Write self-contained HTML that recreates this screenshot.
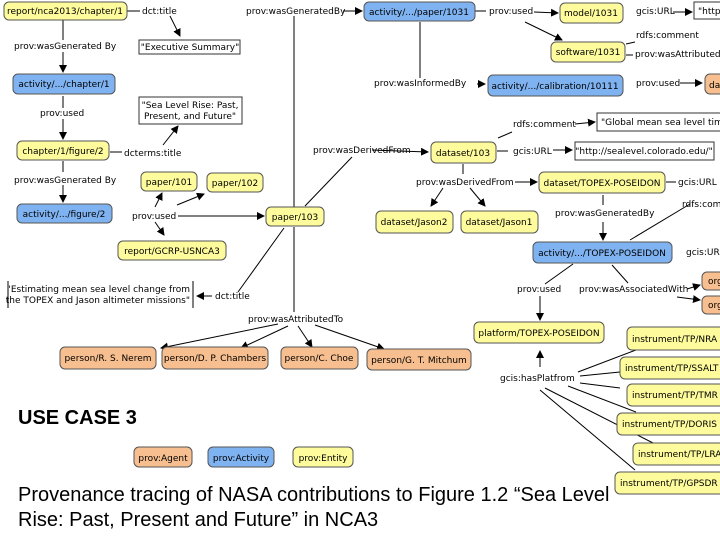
<!DOCTYPE html>
<html><head><meta charset="utf-8"><style>
html,body{margin:0;padding:0;background:#fff;width:720px;height:540px;overflow:hidden}
svg{display:block}
text{font-family:"DejaVu Sans","Liberation Sans",sans-serif;font-size:9px;fill:#000}
.y{fill:#fdfb9c;stroke:#555;stroke-width:1}
.b{fill:#7fb2f0;stroke:#555;stroke-width:1}
.o{fill:#f7bf8f;stroke:#555;stroke-width:1}
.w{fill:#fff;stroke:#333;stroke-width:1}
line,polyline{stroke:#000;stroke-width:1;fill:none}
.cap{font-family:"Liberation Sans",sans-serif;font-size:20px}
</style></head><body>
<svg width="720" height="540" viewBox="0 0 720 540">
<defs><marker id="a" markerWidth="8" markerHeight="8" refX="7" refY="4" orient="auto" markerUnits="userSpaceOnUse"><path d="M0,0 L8,4 L0,8z" fill="#000"/></marker></defs>

<g>
<line x1="127" y1="11" x2="140" y2="11"/>
<line x1="170" y1="16" x2="180" y2="36" marker-end="url(#a)"/>
<line x1="63" y1="20" x2="63" y2="40"/><line x1="63" y1="52" x2="63" y2="72" marker-end="url(#a)"/>
<line x1="63" y1="96" x2="63" y2="108"/><line x1="63" y1="119" x2="63" y2="139" marker-end="url(#a)"/>
<line x1="110" y1="152" x2="122" y2="152"/><line x1="163" y1="145" x2="178" y2="126" marker-end="url(#a)"/>
<line x1="63" y1="161" x2="63" y2="172"/><line x1="63" y1="185" x2="63" y2="202" marker-end="url(#a)"/>
<line x1="155" y1="207" x2="162" y2="193" marker-end="url(#a)"/>
<line x1="177" y1="205" x2="204" y2="194" marker-end="url(#a)"/>
<line x1="178" y1="216" x2="264" y2="216" marker-end="url(#a)"/>
<line x1="155" y1="222" x2="164" y2="235" marker-end="url(#a)"/>
<line x1="294" y1="16" x2="294" y2="207"/><line x1="294" y1="227" x2="294" y2="312"/>
<line x1="343" y1="11" x2="362" y2="11" marker-end="url(#a)"/>
<line x1="305" y1="206" x2="352" y2="157"/>
<line x1="372" y1="150" x2="428" y2="152" marker-end="url(#a)"/>
<line x1="284" y1="228" x2="238" y2="292"/>
<line x1="212" y1="296" x2="197" y2="296" marker-end="url(#a)"/>
<line x1="278" y1="324" x2="161" y2="348" marker-end="url(#a)"/>
<line x1="288" y1="326" x2="241" y2="348" marker-end="url(#a)"/>
<line x1="298" y1="326" x2="312" y2="347" marker-end="url(#a)"/>
<line x1="315" y1="325" x2="384" y2="349" marker-end="url(#a)"/>
<line x1="420" y1="22" x2="420" y2="78"/><line x1="477" y1="84" x2="485" y2="84" marker-end="url(#a)"/>
<line x1="475" y1="11" x2="486" y2="11"/><line x1="534" y1="12" x2="558" y2="13" marker-end="url(#a)"/>
<line x1="525" y1="22" x2="562" y2="40" marker-end="url(#a)"/>
<line x1="626" y1="44" x2="635" y2="42"/><line x1="626" y1="55" x2="633" y2="55"/>
<line x1="673" y1="12" x2="692" y2="12" marker-end="url(#a)"/>
<line x1="680" y1="83" x2="702" y2="83" marker-end="url(#a)"/>
<line x1="497" y1="151" x2="508" y2="151"/><line x1="553" y1="150" x2="572" y2="150" marker-end="url(#a)"/>
<line x1="498" y1="138" x2="512" y2="132"/><line x1="575" y1="124" x2="595" y2="122" marker-end="url(#a)"/>
<line x1="463" y1="164" x2="463" y2="174"/><line x1="515" y1="182" x2="537" y2="182" marker-end="url(#a)"/>
<line x1="443" y1="188" x2="431" y2="206" marker-end="url(#a)"/>
<line x1="470" y1="188" x2="485" y2="206" marker-end="url(#a)"/>
<line x1="666" y1="182" x2="676" y2="182"/>
<line x1="603" y1="195" x2="603" y2="205"/><line x1="603" y1="222" x2="603" y2="240" marker-end="url(#a)"/>
<line x1="690" y1="204" x2="630" y2="240"/>
<line x1="573" y1="264" x2="545" y2="284"/><line x1="540" y1="296" x2="540" y2="320" marker-end="url(#a)"/>
<line x1="612" y1="265" x2="628" y2="283"/>
<line x1="687" y1="289" x2="700" y2="285" marker-end="url(#a)"/>
<line x1="677" y1="297" x2="700" y2="300" marker-end="url(#a)"/>
<line x1="540" y1="367" x2="540" y2="351" marker-end="url(#a)"/>
<line x1="578" y1="372" x2="636" y2="350"/>
<line x1="580" y1="376" x2="620" y2="372"/>
<line x1="580" y1="383" x2="620" y2="388"/>
<line x1="568" y1="386" x2="636" y2="412"/>
<line x1="545" y1="388" x2="655" y2="444"/>
<line x1="540" y1="390" x2="635" y2="470"/>
</g>

<g>
<rect class="y" x="4" y="2" width="123" height="18" rx="5"/><text x="65" y="14" text-anchor="middle">report/nca2013/chapter/1</text>
<rect class="b" x="13" y="74" width="102" height="20" rx="5"/><text x="64" y="87" text-anchor="middle">activity/.../chapter/1</text>
<rect class="y" x="17" y="141" width="92" height="19" rx="5"/><text x="63" y="154" text-anchor="middle">chapter/1/figure/2</text>
<rect class="b" x="17" y="204" width="95" height="19" rx="5"/><text x="64" y="217" text-anchor="middle">activity/.../figure/2</text>
<rect class="w" x="139" y="40" width="101" height="14"/><text x="190" y="50" text-anchor="middle">"Executive Summary"</text>
<rect class="w" x="139" y="97" width="103" height="27"/><text x="190" y="108" text-anchor="middle">"Sea Level Rise: Past,</text><text x="190" y="119" text-anchor="middle">Present, and Future"</text>
<rect class="y" x="141" y="172" width="56" height="19" rx="5"/><text x="169" y="185" text-anchor="middle">paper/101</text>
<rect class="y" x="207" y="173" width="56" height="19" rx="5"/><text x="235" y="186" text-anchor="middle">paper/102</text>
<rect class="y" x="266" y="207" width="58" height="19" rx="5"/><text x="295" y="220" text-anchor="middle">paper/103</text>
<rect class="y" x="118" y="241" width="108" height="19" rx="5"/><text x="172" y="254" text-anchor="middle">report/GCRP-USNCA3</text>
<line x1="8" y1="281" x2="8" y2="308"/><line x1="193" y1="281" x2="193" y2="308"/>
<text x="190" y="292" text-anchor="end">"Estimating mean sea level change from</text><text x="190" y="303" text-anchor="end">the TOPEX and Jason altimeter missions"</text>
<rect class="o" x="60" y="347" width="96" height="22" rx="5"/><text x="108" y="361" text-anchor="middle">person/R. S. Nerem</text>
<rect class="o" x="162" y="347" width="106" height="22" rx="5"/><text x="215" y="361" text-anchor="middle">person/D. P. Chambers</text>
<rect class="o" x="281" y="347" width="77" height="22" rx="5"/><text x="319" y="361" text-anchor="middle">person/C. Choe</text>
<rect class="o" x="367" y="349" width="104" height="21" rx="5"/><text x="419" y="363" text-anchor="middle">person/G. T. Mitchum</text>
<rect class="b" x="364" y="2" width="111" height="19" rx="5"/><text x="419" y="15" text-anchor="middle">activity/.../paper/1031</text>
<rect class="y" x="560" y="3" width="63" height="20" rx="5"/><text x="591" y="16" text-anchor="middle">model/1031</text>
<rect class="y" x="551" y="42" width="74" height="20" rx="5"/><text x="588" y="55" text-anchor="middle">software/1031</text>
<rect class="b" x="488" y="75" width="135" height="21" rx="5"/><text x="555" y="89" text-anchor="middle">activity/.../calibration/10111</text>
<rect class="w" x="694" y="2" width="30" height="17"/><text x="698" y="14">"http</text>
<rect class="o" x="705" y="74" width="20" height="20" rx="5"/><text x="709" y="88">da</text>
<rect class="w" x="597" y="113" width="130" height="18"/><text x="601" y="125">"Global mean sea level time</text>
<rect class="w" x="575" y="142" width="139" height="18"/><text x="644" y="154" text-anchor="middle">"http://sealevel.colorado.edu/"</text>
<rect class="y" x="431" y="142" width="65" height="21" rx="5"/><text x="463" y="156" text-anchor="middle">dataset/103</text>
<rect class="y" x="539" y="172" width="126" height="21" rx="5"/><text x="602" y="186" text-anchor="middle">dataset/TOPEX-POSEIDON</text>
<rect class="y" x="376" y="211" width="77" height="22" rx="5"/><text x="414" y="225" text-anchor="middle">dataset/Jason2</text>
<rect class="y" x="461" y="211" width="77" height="22" rx="5"/><text x="499" y="225" text-anchor="middle">dataset/Jason1</text>
<rect class="b" x="533" y="242" width="139" height="21" rx="5"/><text x="602" y="256" text-anchor="middle">activity/.../TOPEX-POSEIDON</text>
<rect class="y" x="474" y="322" width="130" height="21" rx="5"/><text x="539" y="336" text-anchor="middle">platform/TOPEX-POSEIDON</text>
<rect class="o" x="702" y="272" width="25" height="18" rx="5"/><text x="708" y="284">org</text>
<rect class="o" x="702" y="296" width="25" height="18" rx="5"/><text x="708" y="308">org</text>
<rect class="y" x="627" y="327" width="100" height="23" rx="5"/><text x="632" y="342">instrument/TP/NRA</text>
<rect class="y" x="620" y="357" width="107" height="22" rx="5"/><text x="625" y="371">instrument/TP/SSALT</text>
<rect class="y" x="627" y="384" width="100" height="22" rx="5"/><text x="632" y="398">instrument/TP/TMR</text>
<rect class="y" x="617" y="413" width="110" height="22" rx="5"/><text x="622" y="427">instrument/TP/DORIS</text>
<rect class="y" x="633" y="443" width="94" height="22" rx="5"/><text x="638" y="457">instrument/TP/LRA</text>
<rect class="y" x="615" y="472" width="112" height="22" rx="5"/><text x="620" y="486">instrument/TP/GPSDR</text>
</g>

<g>
<text x="142" y="14">dct:title</text>
<text x="14" y="49">prov:wasGenerated By</text>
<text x="40" y="116">prov:used</text>
<text x="124" y="156">dcterms:title</text>
<text x="14" y="183">prov:wasGenerated By</text>
<text x="132" y="219">prov:used</text>
<text x="246" y="14">prov:wasGeneratedBy</text>
<text x="313" y="153">prov:wasDerivedFrom</text>
<text x="215" y="299">dct:title</text>
<text x="248" y="322">prov:wasAttributedTo</text>
<text x="489" y="14">prov:used</text>
<text x="636" y="14">gcis:URL</text>
<text x="636" y="38">rdfs:comment</text>
<text x="635" y="57">prov:wasAttributedTo</text>
<text x="374" y="86">prov:wasInformedBy</text>
<text x="636" y="86">prov:used</text>
<text x="513" y="127">rdfs:comment</text>
<text x="513" y="154">gcis:URL</text>
<text x="416" y="185">prov:wasDerivedFrom</text>
<text x="678" y="185">gcis:URL</text>
<text x="555" y="216">prov:wasGeneratedBy</text>
<text x="682" y="207">rdfs:com</text>
<text x="686" y="255">gcis:URL</text>
<text x="517" y="292">prov:used</text>
<text x="579" y="292">prov:wasAssociatedWith</text>
<text x="500" y="381">gcis:hasPlatfrom</text>
</g>

<text x="18" y="424" style="font-family:'Liberation Sans',sans-serif;font-size:20px;font-weight:bold">USE CASE 3</text>
<rect class="o" x="134" y="447" width="58" height="20" rx="5"/><text x="163" y="461" text-anchor="middle">prov:Agent</text>
<rect class="b" x="208" y="447" width="66" height="20" rx="5"/><text x="241" y="461" text-anchor="middle">prov:Activity</text>
<rect class="y" x="293" y="447" width="60" height="20" rx="5"/><text x="323" y="461" text-anchor="middle">prov:Entity</text>
<text class="cap" x="18" y="501">Provenance tracing of NASA contributions to Figure 1.2 “Sea Level</text>
<text class="cap" x="18" y="526">Rise: Past, Present and Future” in NCA3</text>
</svg>
</body></html>
